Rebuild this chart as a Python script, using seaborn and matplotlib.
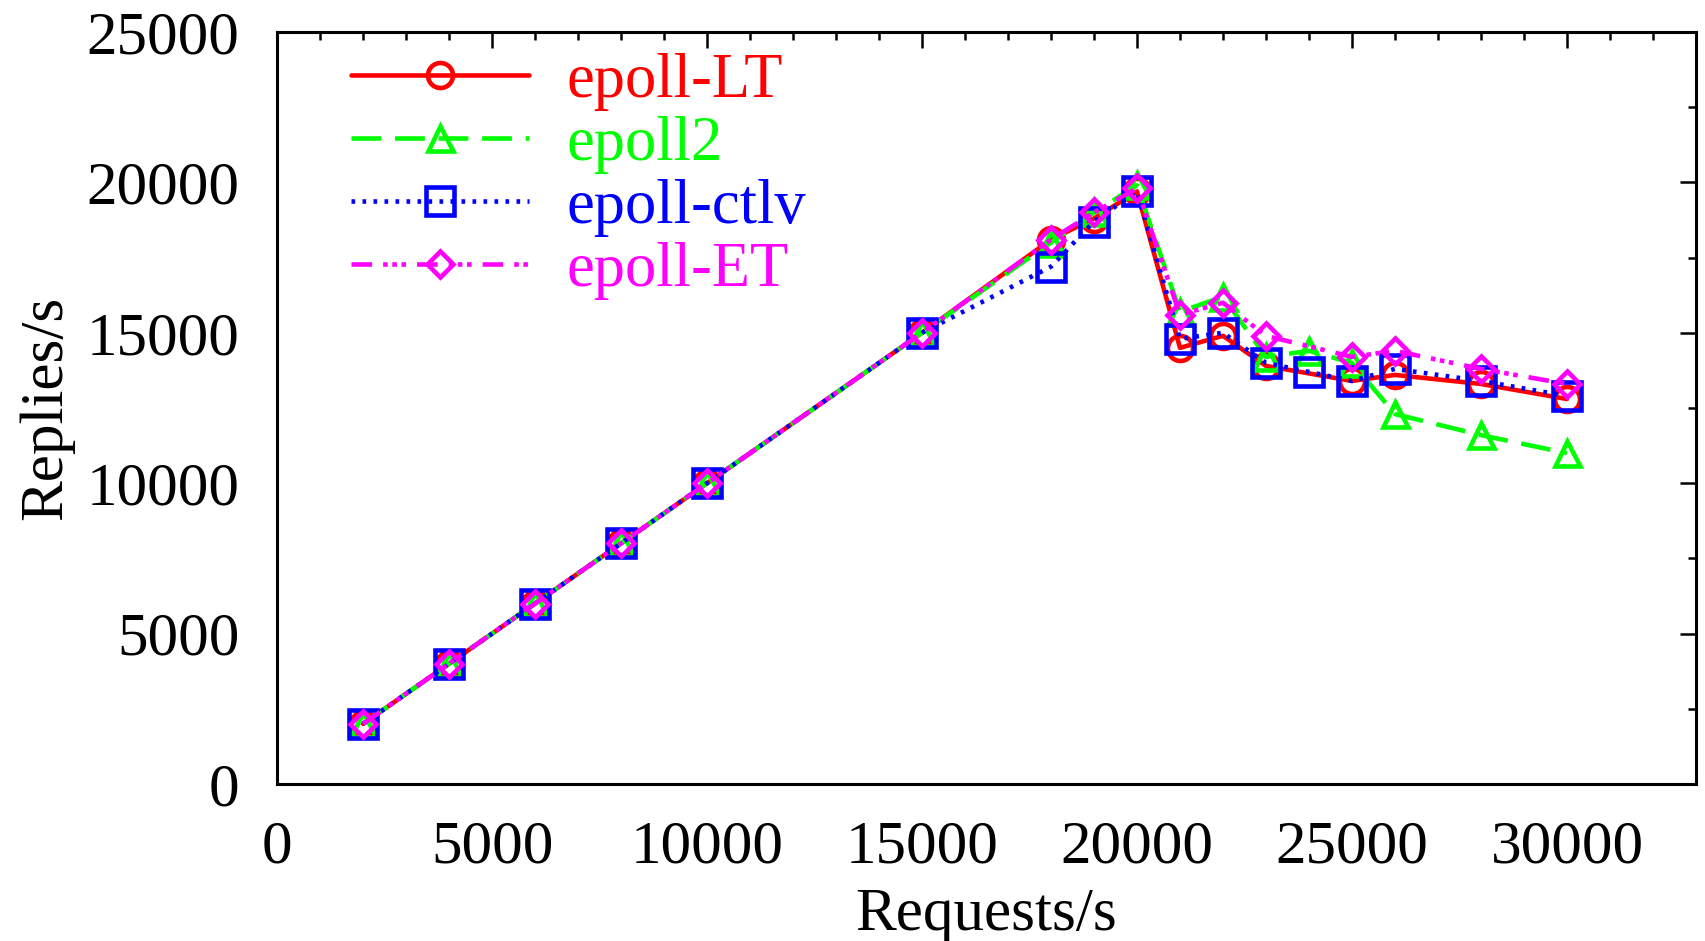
import numpy as np
import pandas as pd
import matplotlib
matplotlib.use("Agg")
import matplotlib.pyplot as plt
from matplotlib.ticker import MultipleLocator
import seaborn as sns

# Offered load (requests/s) and measured reply rates for each epoll variant
requests = [2000, 4000, 6000, 8000, 10000, 15000, 18000, 19000, 20000,
            21000, 22000, 23000, 24000, 25000, 26000, 28000, 30000]
epoll_lt = [2000, 4000, 6000, 8000, 10000, 15000, 18100, 18800, 19700,
            14500, 14900, 13900, np.nan, 13400, 13600, 13300, 12800]
epoll2 = [2000, 4000, 6000, 8000, 10000, 15000, 18000, 19000, 19900,
          15700, 16200, 14200, 14400, 14000, 12300, 11600, 11000]
epoll_ctlv = [2000, 4000, 6000, 8000, 10000, 15000, 17200, 18700, 19700,
              14800, 15000, 14000, 13700, 13400, 13800, 13400, 12900]
epoll_et = [2000, 4000, 6000, 8000, 10000, 15000, 18100, 19000, 19800,
            15600, 16000, 14900, np.nan, 14200, 14400, 13800, 13300]

series_names = ["epoll-LT", "epoll2", "epoll-ctlv", "epoll-ET"]
series_values = [epoll_lt, epoll2, epoll_ctlv, epoll_et]
colors = ["#ff0000", "#00ff00", "#0000ff", "#ff00ff"]
markers = ["o", "^", "s", "D"]
marker_sizes = [18, 18, 20.5, 13]
dash_styles = ["-", (0, (6.5, 3)), (0, (0.8, 1.6)),
               (0, (4.5, 2.4, 1, 1, 1, 1, 1, 2.4))]

sns.set_style("white")
plt.rcParams["font.family"] = ["Liberation Serif", "DejaVu Serif"]
plt.rcParams["text.color"] = "black"
plt.rcParams["axes.labelcolor"] = "black"

fig = plt.figure(figsize=(17.06, 9.41), dpi=100)
ax = fig.add_axes([0.1624, 0.1668, 0.8317, 0.7992])

for name, vals, col, mk, ms, ls in zip(series_names, series_values, colors,
                                       markers, marker_sizes, dash_styles):
    df = pd.DataFrame({"Requests/s": requests, "Replies/s": vals}).dropna()
    sns.lineplot(data=df, x="Requests/s", y="Replies/s", ax=ax,
                 color=col, linestyle=ls, linewidth=3.3, marker=mk,
                 markersize=ms, markerfacecolor="none", markeredgecolor=col,
                 markeredgewidth=3.3, errorbar=None, label=name)

ax.set_xlim(0, 33000)
ax.set_ylim(0, 25000)
ax.xaxis.set_major_locator(MultipleLocator(5000))
ax.xaxis.set_minor_locator(MultipleLocator(1000))
ax.yaxis.set_major_locator(MultipleLocator(5000))
ax.yaxis.set_minor_locator(MultipleLocator(2500))

ax.tick_params(which="both", direction="in", top=True, right=True,
               width=1.8, colors="black")
ax.tick_params(which="major", length=11.5, labelsize=44)
ax.tick_params(which="minor", length=5.8)
ax.tick_params(axis="y", which="major", pad=27)
ax.tick_params(axis="x", which="major", pad=26)
for sp in ax.spines.values():
    sp.set_linewidth(2.2)
    sp.set_color("black")

ax.set_xlabel("Requests/s", fontsize=44, color="black")
ax.set_ylabel("Replies/s", fontsize=44, color="black")
ax.xaxis.set_label_coords(0.5, -0.137)
ax.yaxis.set_label_coords(-0.143, 0.5)

leg = ax.legend(loc="upper left", bbox_to_anchor=(0.052, 0.972),
                borderaxespad=0, borderpad=0, frameon=False, fontsize=45,
                handlelength=2.85, handletextpad=0.6, labelspacing=0.08,
                labelcolor="linecolor", numpoints=1)

fig.savefig("out.png", dpi=100)
